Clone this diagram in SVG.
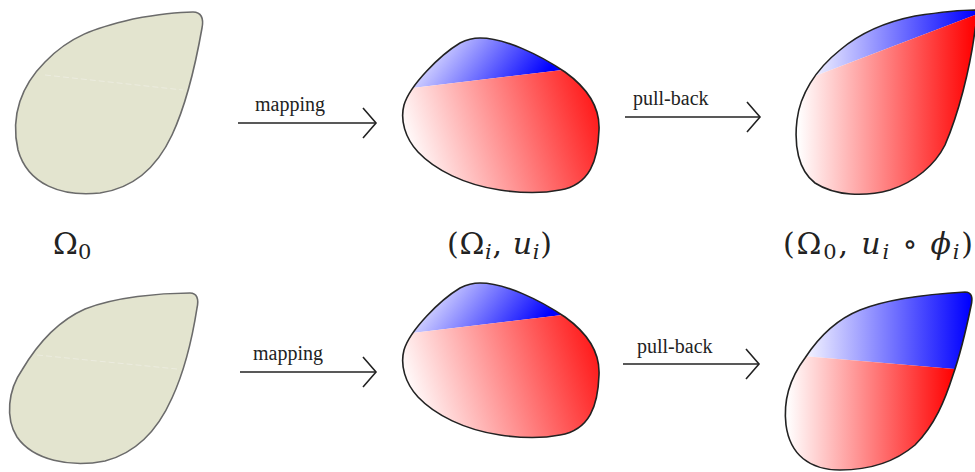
<svg xmlns="http://www.w3.org/2000/svg" width="975" height="472" viewBox="0 0 975 472">
<style>
.beige{fill:#e3e4cf;stroke:#6b6b6b;stroke-width:1.6}
.outline{fill:none;stroke:#222;stroke-width:1.6}
.seam{stroke:#ececdf;stroke-width:1;stroke-dasharray:6 3}
.arrow{stroke:#222;stroke-width:1.5;fill:none;marker-end:url(#chev)}
.lbl{font-family:"Liberation Serif","Times New Roman",serif;font-size:20px;fill:#222}
.math{font-family:"DejaVu Serif","Liberation Serif",serif;font-size:30px;fill:#222}
.it{font-style:italic}
.sub{font-size:21px}
</style>
<defs>
<marker id="chev" markerUnits="userSpaceOnUse" markerWidth="18" markerHeight="34" viewBox="0 0 18 34" refX="15" refY="17" orient="auto">
<path d="M2,2 L15,17 L2,32" fill="none" stroke="#222" stroke-width="1.6"/>
</marker>
<linearGradient id="b2" gradientUnits="userSpaceOnUse" x1="450" y1="35" x2="530" y2="95"><stop offset="0" stop-color="#cfcfff"/><stop offset="1" stop-color="#0000ff"/></linearGradient>
<linearGradient id="r2" gradientUnits="userSpaceOnUse" x1="415" y1="175" x2="600" y2="115"><stop offset="0" stop-color="#ffffff"/><stop offset="1" stop-color="#ff1a1a"/></linearGradient>
<linearGradient id="b2b" gradientUnits="userSpaceOnUse" x1="450" y1="280" x2="530" y2="340"><stop offset="0" stop-color="#cfcfff"/><stop offset="1" stop-color="#0000ff"/></linearGradient>
<linearGradient id="r2b" gradientUnits="userSpaceOnUse" x1="415" y1="420" x2="600" y2="360"><stop offset="0" stop-color="#ffffff"/><stop offset="1" stop-color="#ff1a1a"/></linearGradient>
<linearGradient id="b3" gradientUnits="userSpaceOnUse" x1="820" y1="0" x2="975" y2="0"><stop offset="0" stop-color="#e8e8ff"/><stop offset="1" stop-color="#0000ff"/></linearGradient>
<linearGradient id="r3" gradientUnits="userSpaceOnUse" x1="798" y1="0" x2="975" y2="0"><stop offset="0" stop-color="#ffffff"/><stop offset="1" stop-color="#ff0000"/></linearGradient>
<linearGradient id="b3b" gradientUnits="userSpaceOnUse" x1="810" y1="0" x2="970" y2="0"><stop offset="0" stop-color="#eeeeff"/><stop offset="1" stop-color="#0000ff"/></linearGradient>
<linearGradient id="r3b" gradientUnits="userSpaceOnUse" x1="787" y1="0" x2="955" y2="0"><stop offset="0" stop-color="#ffffff"/><stop offset="1" stop-color="#ff0000"/></linearGradient>
<path id="s2" d="M480,38 C505,38 540,55 565,72 C590,90 600,110 599,130 C598,160 590,185 560,190 C540,194 520,193 500,190 C465,185 435,170 418,152 C405,138 400,120 404,105 C410,85 440,55 460,43 C466,40 472,38 480,38 Z"/>
<path id="s3" d="M975,10 C978,12 977,20 975,30 C970,70 958,115 945,145 C935,165 915,182 890,190 C865,197 835,196 815,183 C798,170 794,145 797,120 C800,95 815,70 840,50 C860,33 885,22 915,16 C935,13 960,10 975,10 Z"/>
<path id="s3b" d="M965,292 C972,292 973,298 971,306 C965,335 960,355 953,375 C945,400 935,425 915,445 C895,462 870,470 840,470 C810,470 790,455 786,425 C783,400 790,378 805,358 C820,335 840,318 860,310 C890,298 930,294 965,292 Z"/>
<clipPath id="c2"><use href="#s2"/></clipPath>
<clipPath id="c2b"><use href="#s2" transform="translate(0,245)"/></clipPath>
<clipPath id="c3"><use href="#s3"/></clipPath>
<clipPath id="c3b"><use href="#s3b"/></clipPath>
</defs>
<rect width="975" height="472" fill="#ffffff"/>

<g id="omega0-top">
<path class="beige" d="M193,12 C201,12 204,18 202,28 C196,62 186,105 172,135 C158,165 135,188 100,193 C62,197 28,185 18,150 C10,115 22,85 45,62 C70,36 95,28 133,19 C160,14 180,12 193,12 Z"/>
<line class="seam" x1="45" y1="75" x2="183" y2="90"/>
</g>
<g id="omega-i-top">
<g clip-path="url(#c2)">
<polygon points="395,90.2 610,64.2 610,30 395,30" fill="url(#b2)"/>
<polygon points="395,90.2 610,64.2 610,200 395,200" fill="url(#r2)"/>
</g>
<use href="#s2" class="outline"/>
</g>
<g id="pullback-top">
<g clip-path="url(#c3)">
<polygon points="780,89.4 990,9.3 990,0 780,0" fill="url(#b3)"/>
<polygon points="780,89.4 990,9.3 990,200 780,200" fill="url(#r3)"/>
</g>
<use href="#s3" class="outline"/>
</g>

<g id="omega0-bottom">
<path class="beige" d="M190,293 C197,293 199,299 197,308 C192,340 184,372 172,398 C160,425 140,452 105,461 C70,468 33,460 17,437 C5,418 8,390 22,370 C38,343 60,320 85,309 C115,297 160,293 190,293 Z"/>
<line class="seam" x1="37" y1="355" x2="177" y2="369"/>
</g>
<g id="omega-i-bottom">
<g clip-path="url(#c2b)">
<polygon points="395,335.2 610,309.2 610,275 395,275" fill="url(#b2b)"/>
<polygon points="395,335.2 610,309.2 610,445 395,445" fill="url(#r2b)"/>
</g>
<use href="#s2" class="outline" transform="translate(0,245)"/>
</g>
<g id="pullback-bottom">
<g clip-path="url(#c3b)">
<polygon points="780,354.2 990,372 990,280 780,280" fill="url(#b3b)"/>
<polygon points="780,354.2 990,372 990,480 780,480" fill="url(#r3b)"/>
</g>
<use href="#s3b" class="outline"/>
</g>

<g id="connectors">
<line class="arrow" x1="238" y1="123" x2="376" y2="123"/>
<line class="arrow" x1="625" y1="117" x2="760" y2="117"/>
<line class="arrow" x1="240" y1="372" x2="376" y2="372"/>
<line class="arrow" x1="623" y1="364" x2="759" y2="364"/>
<text class="lbl" x="255" y="111">mapping</text>
<text class="lbl" x="633" y="105">pull-back</text>
<text class="lbl" x="253" y="360">mapping</text>
<text class="lbl" x="637" y="353">pull-back</text>
</g>

<g id="labels">
<text class="math" x="53" y="254">Ω<tspan class="sub" dy="5">0</tspan></text>
<text class="math" x="447" y="254" textLength="105" lengthAdjust="spacing">(Ω<tspan class="it sub" dy="5">i</tspan><tspan dy="-5">, </tspan><tspan class="it">u</tspan><tspan class="it sub" dy="5">i</tspan><tspan dy="-5">)</tspan></text>
<text class="math" x="783" y="254" textLength="190" lengthAdjust="spacing">(Ω<tspan class="sub" dy="5">0</tspan><tspan dy="-5">, </tspan><tspan class="it">u</tspan><tspan class="it sub" dy="5">i</tspan><tspan dy="-5"> ∘ </tspan><tspan class="it">ϕ</tspan><tspan class="it sub" dy="5">i</tspan><tspan dy="-5">)</tspan></text>
</g>
</svg>
